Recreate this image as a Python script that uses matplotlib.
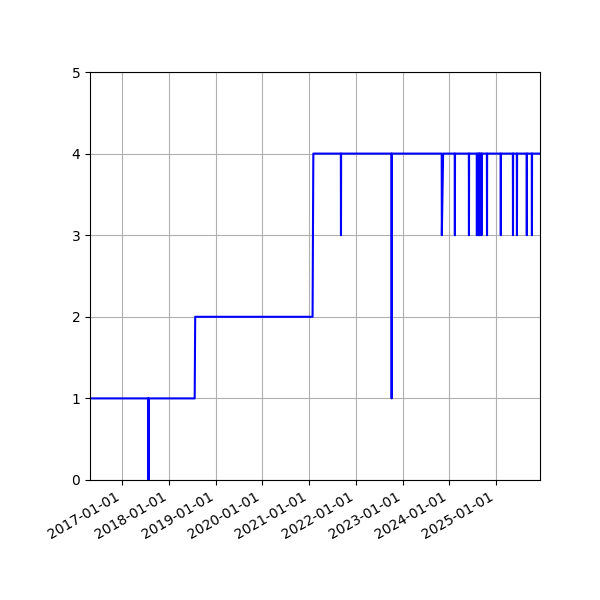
import matplotlib
matplotlib.use("Agg")
import matplotlib.pyplot as plt
import matplotlib.dates as mdates
import pandas as pd

dates = ["2016-04-25","2017-07-25","2017-07-26","2017-07-27","2018-07-22","2018-07-26",
         "2021-01-28","2021-02-03","2021-09-06","2021-09-07","2021-09-08",
         "2022-10-07","2022-10-08","2022-10-09","2023-11-03","2023-11-04","2023-11-14",
         "2024-02-13","2024-02-14","2024-02-15","2024-06-02","2024-06-03","2024-06-04",
         "2024-08-03","2024-08-04","2024-08-05","2024-08-19","2024-08-20","2024-08-21",
         "2024-08-26","2024-08-27","2024-08-28","2024-09-09","2024-09-10","2024-09-11",
         "2024-10-21","2024-10-22","2024-10-23","2025-02-06","2025-02-07","2025-02-08",
         "2025-05-12","2025-05-13","2025-05-14","2025-06-12","2025-06-13","2025-06-14",
         "2025-08-28","2025-08-29","2025-08-30","2025-10-07","2025-10-08","2025-10-09",
         "2025-12-10"]
values = [1,1,0,1,1,2,
          2,4,4,3,4,
          4,1,4,4,3,4,
          4,3,4,4,3,4,
          4,3,4,4,3,4,
          4,3,4,4,3,4,
          4,3,4,4,3,4,
          4,3,4,4,3,4,
          4,3,4,4,3,4,
          4]

x = pd.to_datetime(dates)
fig, ax = plt.subplots(figsize=(6, 6), dpi=100)
ax.plot(x, values, color="blue")
ax.set_ylim(0, 5)
ax.set_xlim(x[0], x[-1])
ax.xaxis.set_major_locator(mdates.YearLocator())
ax.xaxis.set_major_formatter(mdates.DateFormatter("%Y-%m-%d"))
ax.grid(True)
fig.autofmt_xdate()
fig.subplots_adjust(left=0.15, right=0.9, top=0.88, bottom=0.2)
fig.savefig("out.png")
